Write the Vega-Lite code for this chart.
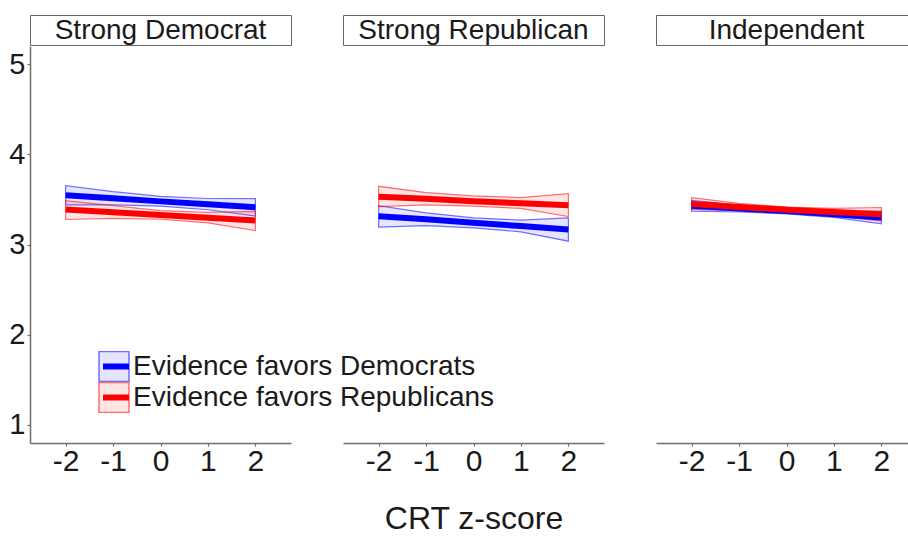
{
  "$schema": "https://vega.github.io/schema/vega-lite/v6.json",
  "background": "white",
  "padding": {"left": 8, "top": 14, "right": 0, "bottom": 2},
  "datasets": {
    "panels": [
      {"panel": "Strong Democrat"},
      {"panel": "Strong Republican"},
      {"panel": "Independent"}
    ],
    "estimates": [
      {"panel": "Strong Democrat", "evidence": "Evidence favors Democrats", "crt": -2, "rating": 3.545, "lo": 3.44, "hi": 3.652},
      {"panel": "Strong Democrat", "evidence": "Evidence favors Democrats", "crt": -1, "rating": 3.512, "lo": 3.44, "hi": 3.585},
      {"panel": "Strong Democrat", "evidence": "Evidence favors Democrats", "crt": 0, "rating": 3.478, "lo": 3.425, "hi": 3.533},
      {"panel": "Strong Democrat", "evidence": "Evidence favors Democrats", "crt": 1, "rating": 3.445, "lo": 3.385, "hi": 3.51},
      {"panel": "Strong Democrat", "evidence": "Evidence favors Democrats", "crt": 2, "rating": 3.412, "lo": 3.315, "hi": 3.508},
      {"panel": "Strong Democrat", "evidence": "Evidence favors Republicans", "crt": -2, "rating": 3.387, "lo": 3.277, "hi": 3.486},
      {"panel": "Strong Democrat", "evidence": "Evidence favors Republicans", "crt": -1, "rating": 3.357, "lo": 3.29, "hi": 3.43},
      {"panel": "Strong Democrat", "evidence": "Evidence favors Republicans", "crt": 0, "rating": 3.327, "lo": 3.28, "hi": 3.375},
      {"panel": "Strong Democrat", "evidence": "Evidence favors Republicans", "crt": 1, "rating": 3.296, "lo": 3.24, "hi": 3.355},
      {"panel": "Strong Democrat", "evidence": "Evidence favors Republicans", "crt": 2, "rating": 3.266, "lo": 3.155, "hi": 3.368},
      {"panel": "Strong Republican", "evidence": "Evidence favors Democrats", "crt": -2, "rating": 3.313, "lo": 3.192, "hi": 3.431},
      {"panel": "Strong Republican", "evidence": "Evidence favors Democrats", "crt": -1, "rating": 3.28, "lo": 3.21, "hi": 3.35},
      {"panel": "Strong Republican", "evidence": "Evidence favors Democrats", "crt": 0, "rating": 3.24, "lo": 3.185, "hi": 3.295},
      {"panel": "Strong Republican", "evidence": "Evidence favors Democrats", "crt": 1, "rating": 3.205, "lo": 3.14, "hi": 3.27},
      {"panel": "Strong Republican", "evidence": "Evidence favors Democrats", "crt": 2, "rating": 3.167, "lo": 3.037, "hi": 3.295},
      {"panel": "Strong Republican", "evidence": "Evidence favors Republicans", "crt": -2, "rating": 3.53, "lo": 3.42, "hi": 3.645},
      {"panel": "Strong Republican", "evidence": "Evidence favors Republicans", "crt": -1, "rating": 3.507, "lo": 3.44, "hi": 3.575},
      {"panel": "Strong Republican", "evidence": "Evidence favors Republicans", "crt": 0, "rating": 3.48, "lo": 3.425, "hi": 3.54},
      {"panel": "Strong Republican", "evidence": "Evidence favors Republicans", "crt": 1, "rating": 3.457, "lo": 3.4, "hi": 3.52},
      {"panel": "Strong Republican", "evidence": "Evidence favors Republicans", "crt": 2, "rating": 3.434, "lo": 3.31, "hi": 3.563},
      {"panel": "Independent", "evidence": "Evidence favors Democrats", "crt": -2, "rating": 3.43, "lo": 3.37, "hi": 3.49},
      {"panel": "Independent", "evidence": "Evidence favors Democrats", "crt": -1, "rating": 3.4, "lo": 3.36, "hi": 3.44},
      {"panel": "Independent", "evidence": "Evidence favors Democrats", "crt": 0, "rating": 3.37, "lo": 3.34, "hi": 3.4},
      {"panel": "Independent", "evidence": "Evidence favors Democrats", "crt": 1, "rating": 3.335, "lo": 3.3, "hi": 3.37},
      {"panel": "Independent", "evidence": "Evidence favors Democrats", "crt": 2, "rating": 3.3, "lo": 3.23, "hi": 3.37},
      {"panel": "Independent", "evidence": "Evidence favors Republicans", "crt": -2, "rating": 3.45, "lo": 3.39, "hi": 3.52},
      {"panel": "Independent", "evidence": "Evidence favors Republicans", "crt": -1, "rating": 3.415, "lo": 3.375, "hi": 3.455},
      {"panel": "Independent", "evidence": "Evidence favors Republicans", "crt": 0, "rating": 3.385, "lo": 3.355, "hi": 3.415},
      {"panel": "Independent", "evidence": "Evidence favors Republicans", "crt": 1, "rating": 3.36, "lo": 3.32, "hi": 3.4},
      {"panel": "Independent", "evidence": "Evidence favors Republicans", "crt": 2, "rating": 3.335, "lo": 3.26, "hi": 3.41}
    ]
  },
  "spacing": 50,
  "hconcat": [
    {
      "spacing": 0,
      "vconcat": [
        {
          "width": 261, "height": 30,
          "data": {"name": "panels"},
          "transform": [{"filter": {"field": "panel", "equal": "Strong Democrat"}}],
          "view": {"stroke": "#666666", "strokeWidth": 1},
          "mark": {"type": "text", "fontSize": 28, "font": "Liberation Sans", "color": "#1a1a1a", "baseline": "middle", "dy": 1},
          "encoding": {"text": {"field": "panel", "type": "nominal"}}
        },
        {
          "width": 261, "height": 397,
          "data": {"name": "estimates"},
          "transform": [{"filter": {"field": "panel", "equal": "Strong Democrat"}}],
          "encoding": {
            "x": {"field": "crt", "type": "quantitative", "scale": {"domain": [-2.75, 2.75], "nice": false, "zero": false}, "axis": {"values": [-2, -1, 0, 1, 2], "labelExpr": "toString(datum.value)", "title": null}}
          },
          "layer": [
            {
              "mark": {"type": "area", "strokeWidth": 1.2, "opacity": 1, "fillOpacity": 1},
              "encoding": {
                "y": {"field": "lo", "type": "quantitative", "scale": {"domain": [0.8, 5.2], "nice": false, "zero": false}, "axis": {"values": [1, 2, 3, 4, 5], "labelExpr": "toString(datum.value)", "title": null}},
                "y2": {"field": "hi"},
                "fill": {"field": "evidence", "type": "nominal", "scale": {"range": ["rgba(0,0,255,0.1)", "rgba(255,0,0,0.1)"]},
                  "legend": {"orient": "none", "legendX": 68, "legendY": 336, "title": null, "symbolType": "square", "symbolSize": 900, "labelFontSize": 28, "labelFont": "Liberation Sans", "labelColor": "#1a1a1a", "labelOffset": 3, "rowPadding": 0, "clipHeight": 31, "labelLimit": 600,
                    "encode": {"symbols": {"update": {"stroke": {"scale": "stroke", "field": "value"}, "strokeWidth": {"value": 1.5}}}}}},
                "stroke": {"field": "evidence", "type": "nominal", "scale": {"range": ["rgba(0,0,255,0.55)", "rgba(255,0,0,0.55)"]}, "legend": null}
              }
            },
            {
              "mark": {"type": "line", "strokeWidth": 6},
              "encoding": {
                "y": {"field": "rating", "type": "quantitative"},
                "color": {"field": "evidence", "type": "nominal", "scale": {"domain": ["Evidence favors Democrats", "Evidence favors Republicans"], "range": ["#0000ff", "#ff0000"]},
                  "legend": {"orient": "none", "legendX": 70, "legendY": 336, "title": null, "symbolType": "stroke", "symbolSize": 676, "symbolStrokeWidth": 6, "labelFontSize": 28, "labelExpr": "''", "labelOffset": 5, "rowPadding": 0, "clipHeight": 31, "labelLimit": 600}}
              }
            }
          ]
        }
      ]
    },
    {
      "spacing": 0,
      "vconcat": [
        {
          "width": 261, "height": 30,
          "data": {"name": "panels"},
          "transform": [{"filter": {"field": "panel", "equal": "Strong Republican"}}],
          "view": {"stroke": "#666666", "strokeWidth": 1},
          "mark": {"type": "text", "fontSize": 28, "font": "Liberation Sans", "color": "#1a1a1a", "baseline": "middle", "dy": 1},
          "encoding": {"text": {"field": "panel", "type": "nominal"}}
        },
        {
          "width": 261, "height": 397,
          "data": {"name": "estimates"},
          "transform": [{"filter": {"field": "panel", "equal": "Strong Republican"}}],
          "encoding": {
            "x": {"field": "crt", "type": "quantitative", "scale": {"domain": [-2.75, 2.75], "nice": false, "zero": false}, "axis": {"values": [-2, -1, 0, 1, 2], "labelExpr": "toString(datum.value)", "title": "CRT z-score", "titlePadding": 27}}
          },
          "layer": [
            {
              "mark": {"type": "area", "strokeWidth": 1.2, "opacity": 1, "fillOpacity": 1},
              "encoding": {
                "y": {"field": "lo", "type": "quantitative", "scale": {"domain": [0.8, 5.2], "nice": false, "zero": false}, "axis": null},
                "y2": {"field": "hi"},
                "fill": {"field": "evidence", "type": "nominal", "legend": null},
                "stroke": {"field": "evidence", "type": "nominal", "legend": null}
              }
            },
            {
              "mark": {"type": "line", "strokeWidth": 6},
              "encoding": {
                "y": {"field": "rating", "type": "quantitative"},
                "color": {"field": "evidence", "type": "nominal", "legend": null}
              }
            }
          ]
        }
      ]
    },
    {
      "spacing": 0,
      "vconcat": [
        {
          "width": 261, "height": 30,
          "data": {"name": "panels"},
          "transform": [{"filter": {"field": "panel", "equal": "Independent"}}],
          "view": {"stroke": "#666666", "strokeWidth": 1},
          "mark": {"type": "text", "fontSize": 28, "font": "Liberation Sans", "color": "#1a1a1a", "baseline": "middle", "dy": 1},
          "encoding": {"text": {"field": "panel", "type": "nominal"}}
        },
        {
          "width": 261, "height": 397,
          "data": {"name": "estimates"},
          "transform": [{"filter": {"field": "panel", "equal": "Independent"}}],
          "encoding": {
            "x": {"field": "crt", "type": "quantitative", "scale": {"domain": [-2.75, 2.75], "nice": false, "zero": false}, "axis": {"values": [-2, -1, 0, 1, 2], "labelExpr": "toString(datum.value)", "title": null}}
          },
          "layer": [
            {
              "mark": {"type": "area", "strokeWidth": 1.2, "opacity": 1, "fillOpacity": 1},
              "encoding": {
                "y": {"field": "lo", "type": "quantitative", "scale": {"domain": [0.8, 5.2], "nice": false, "zero": false}, "axis": null},
                "y2": {"field": "hi"},
                "fill": {"field": "evidence", "type": "nominal", "legend": null},
                "stroke": {"field": "evidence", "type": "nominal", "legend": null}
              }
            },
            {
              "mark": {"type": "line", "strokeWidth": 6},
              "encoding": {
                "y": {"field": "rating", "type": "quantitative"},
                "color": {"field": "evidence", "type": "nominal", "legend": null}
              }
            }
          ]
        }
      ]
    }
  ],
  "config": {
    "font": "Liberation Sans",
    "view": {"stroke": null},
    "axis": {
      "grid": false,
      "domainColor": "#6e6e6e", "domainWidth": 1.5,
      "tickColor": "#6e6e6e", "tickSize": 3, "tickWidth": 1.2,
      "labelFont": "Liberation Sans", "labelFontSize": 29, "labelColor": "#1a1a1a",
      "titleFont": "Liberation Sans", "titleFontSize": 32, "titleFontWeight": "normal", "titleColor": "#1a1a1a"
    },
    "axisX": {"labelPadding": 0, "labelFontSize": 30},
    "axisY": {"labelPadding": 2}
  }
}
